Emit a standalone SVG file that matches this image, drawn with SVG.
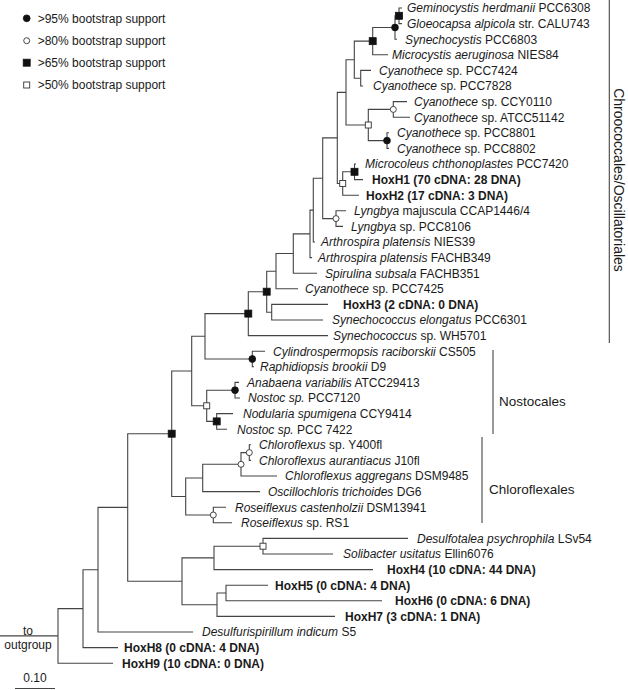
<svg xmlns="http://www.w3.org/2000/svg" xmlns:xlink="http://www.w3.org/1999/xlink" width="628" height="690" viewBox="0 0 628 690">
<style>
text{font-family:"Liberation Sans",Arial,Helvetica,sans-serif;font-size:12px;fill:#1a1a1a}
.i{font-style:italic}
.b{font-weight:bold}
.cl{font-size:13.5px}
.e{fill:none;stroke:#444;stroke-width:1.1}
.fc,.fs{fill:#111;stroke:#111;stroke-width:0.8}
.oc,.os{fill:#fff;stroke:#333;stroke-width:0.9}
</style>
<defs>
<circle id="FC" r="3.4" class="fc"/>
<circle id="OC" r="3" class="oc"/>
<rect id="FS" x="-3.5" y="-3.5" width="7" height="7" class="fs"/>
<rect id="OS" x="-3" y="-3" width="6" height="6" class="os"/>
</defs>
<rect width="628" height="690" fill="#fff"/>

<g id="legend">
<use xlink:href="#FC" x="26.7" y="18.3"/><text x="37.7" y="22.6">&gt;95% bootstrap support</text>
<use xlink:href="#OC" x="26.7" y="40.7"/><text x="37.7" y="45">&gt;80% bootstrap support</text>
<use xlink:href="#FS" x="26.7" y="62.7"/><text x="37.7" y="67">&gt;65% bootstrap support</text>
<use xlink:href="#OS" x="26.7" y="85"/><text x="37.7" y="89.3">&gt;50% bootstrap support</text>
</g>

<g id="connectors">
<path class="e" d="M402 8H399V23.6H402"/>
<path class="e" d="M399 15.8H395V39.2H397"/>
<path class="e" d="M395 27.5H372.7V54.8H388"/>
<path class="e" d="M371 70.4H360.7V86H363"/>
<path class="e" d="M372.7 41.15H354.3V78.2H360.7"/>
<path class="e" d="M407 101.6H393.3V117.2H410"/>
<path class="e" d="M389 132.8H387V148.4H389"/>
<path class="e" d="M393.3 109.4H368.3V140.6H387"/>
<path class="e" d="M354.3 59.7H346V125H368.3"/>
<path class="e" d="M356 164H354.5V179.6H363"/>
<path class="e" d="M354.5 171.8H342.7V195.2H359"/>
<path class="e" d="M346 92.35H337.3V183.5H342.7"/>
<path class="e" d="M346 210.8H336V226.4H343"/>
<path class="e" d="M337.3 137.9H322.7V218.6H336"/>
<path class="e" d="M322.7 178.25H313.3V242H315"/>
<path class="e" d="M313.3 210.1H310V257.6H312"/>
<path class="e" d="M310 233.9H293.3V273.2H317"/>
<path class="e" d="M293.3 253.5H276V288.8H298"/>
<path class="e" d="M328 304.4H271.7V320H323"/>
<path class="e" d="M276 271.2H266.7V312.2H271.7"/>
<path class="e" d="M266.7 291.7H248.3V335.6H328"/>
<path class="e" d="M265 351.2H252.3V366.8H254"/>
<path class="e" d="M248.3 313.6H205V359H252.3"/>
<path class="e" d="M239 382.4H235V398H240"/>
<path class="e" d="M233 413.6H216.7V429.2H227"/>
<path class="e" d="M235 390.2H206.7V421.4H216.7"/>
<path class="e" d="M205 336.3H191.7V405.8H206.7"/>
<path class="e" d="M251 444.8H249.3V460.4H251"/>
<path class="e" d="M249.3 452.6H241V476H277"/>
<path class="e" d="M241 464.3H202.7V491.6H260"/>
<path class="e" d="M226 507.2H213.3V522.8H232"/>
<path class="e" d="M202.7 478H185.7V515H213.3"/>
<path class="e" d="M191.7 371H171.7V496.5H185.7"/>
<path class="e" d="M408 538.4H263V554H333"/>
<path class="e" d="M263 546.2H214V569.6H373"/>
<path class="e" d="M268 585.2H226V600.8H382"/>
<path class="e" d="M226 593H217V616.4H335"/>
<path class="e" d="M214 557.9H182V604.7H217"/>
<path class="e" d="M171.7 433.7H127.7V581.3H182"/>
<path class="e" d="M127.7 507.4H98V632H193"/>
<path class="e" d="M98 569.7H83V647.6H118"/>
<path class="e" d="M83 608.6H58V663.2H113"/>
<path class="e" d="M0 635.9H58"/>
<path class="e" d="M15 688.5H55"/>
<path class="e" d="M609.3 0V343"/>
<path class="e" d="M493 350V434"/>
<path class="e" d="M482 437V523"/>
</g>

<g id="support">
<use xlink:href="#FC" x="395" y="27.5"/>
<use xlink:href="#FC" x="387" y="140.6"/>
<use xlink:href="#FC" x="252.3" y="359"/>
<use xlink:href="#FC" x="235" y="390.2"/>
<use xlink:href="#OC" x="393.3" y="109.4"/>
<use xlink:href="#OC" x="336" y="218.6"/>
<use xlink:href="#OC" x="249.3" y="452.6"/>
<use xlink:href="#OC" x="241" y="464.3"/>
<use xlink:href="#OC" x="213.3" y="515"/>
<use xlink:href="#FS" x="399" y="15.8"/>
<use xlink:href="#FS" x="372.7" y="41.15"/>
<use xlink:href="#FS" x="354.5" y="171.8"/>
<use xlink:href="#FS" x="266.7" y="291.7"/>
<use xlink:href="#FS" x="248.3" y="313.6"/>
<use xlink:href="#FS" x="216.7" y="421.4"/>
<use xlink:href="#FS" x="171.7" y="433.7"/>
<use xlink:href="#OS" x="368.3" y="125"/>
<use xlink:href="#OS" x="342.7" y="183.5"/>
<use xlink:href="#OS" x="206.7" y="405.8"/>
<use xlink:href="#OS" x="263" y="546.2"/>
</g>

<g id="leaves">
<g id="n1"><text x="407" y="12.3"><tspan class="i">Geminocystis herdmanii</tspan> PCC6308</text></g>
<g id="n2"><text x="407" y="27.9"><tspan class="i">Gloeocapsa alpicola</tspan> str. CALU743</text></g>
<g id="n3"><text x="405" y="43.5"><tspan class="i">Synechocystis</tspan> PCC6803</text></g>
<g id="n4"><text x="392" y="59.1"><tspan class="i">Microcystis aeruginosa</tspan> NIES84</text></g>
<g id="n5"><text x="379" y="74.7"><tspan class="i">Cyanothece</tspan> sp. PCC7424</text></g>
<g id="n6"><text x="373" y="90.3"><tspan class="i">Cyanothece</tspan> sp. PCC7828</text></g>
<g id="n7"><text x="414" y="105.9"><tspan class="i">Cyanothece</tspan> sp. CCY0110</text></g>
<g id="n8"><text x="414" y="121.5"><tspan class="i">Cyanothece</tspan> sp. ATCC51142</text></g>
<g id="n9"><text x="397" y="137.1"><tspan class="i">Cyanothece</tspan> sp. PCC8801</text></g>
<g id="n10"><text x="397" y="152.7"><tspan class="i">Cyanothece</tspan> sp. PCC8802</text></g>
<g id="n11"><text x="365" y="168.3"><tspan class="i">Microcoleus chthonoplastes</tspan> PCC7420</text></g>
<g id="n12"><text x="372" y="183.9" class="b">HoxH1 (70 cDNA: 28 DNA)</text></g>
<g id="n13"><text x="366" y="199.5" class="b">HoxH2 (17 cDNA: 3 DNA)</text></g>
<g id="n14"><text x="354" y="215.1"><tspan class="i">Lyngbya</tspan> majuscula CCAP1446/4</text></g>
<g id="n15"><text x="351" y="230.7"><tspan class="i">Lyngbya</tspan> sp. PCC8106</text></g>
<g id="n16"><text x="321" y="246.3"><tspan class="i">Arthrospira platensis</tspan> NIES39</text></g>
<g id="n17"><text x="318" y="261.9"><tspan class="i">Arthrospira platensis</tspan> FACHB349</text></g>
<g id="n18"><text x="325" y="277.5"><tspan class="i">Spirulina subsala</tspan> FACHB351</text></g>
<g id="n19"><text x="305" y="293.1"><tspan class="i">Cyanothece</tspan> sp. PCC7425</text></g>
<g id="n20"><text x="343" y="308.7" class="b">HoxH3 (2 cDNA: 0 DNA)</text></g>
<g id="n21"><text x="332" y="324.3"><tspan class="i">Synechococcus elongatus</tspan> PCC6301</text></g>
<g id="n22"><text x="333" y="339.9"><tspan class="i">Synechococcus</tspan> sp. WH5701</text></g>
<g id="n23"><text x="273" y="355.5"><tspan class="i">Cylindrospermopsis raciborskii</tspan> CS505</text></g>
<g id="n24"><text x="260" y="371.1"><tspan class="i">Raphidiopsis brookii</tspan> D9</text></g>
<g id="n25"><text x="247" y="386.7"><tspan class="i">Anabaena variabilis</tspan> ATCC29413</text></g>
<g id="n26"><text x="248" y="402.3"><tspan class="i">Nostoc sp.</tspan> PCC7120</text></g>
<g id="n27"><text x="243" y="417.9"><tspan class="i">Nodularia spumigena</tspan> CCY9414</text></g>
<g id="n28"><text x="237" y="433.5"><tspan class="i">Nostoc sp.</tspan> PCC 7422</text></g>
<g id="n29"><text x="259" y="449.1"><tspan class="i">Chloroflexus</tspan> sp. Y400fl</text></g>
<g id="n30"><text x="259" y="464.7"><tspan class="i">Chloroflexus aurantiacus</tspan> J10fl</text></g>
<g id="n31"><text x="285" y="480.3"><tspan class="i">Chloroflexus aggregans</tspan> DSM9485</text></g>
<g id="n32"><text x="268" y="495.9"><tspan class="i">Oscillochloris trichoides</tspan> DG6</text></g>
<g id="n33"><text x="235" y="511.5"><tspan class="i">Roseiflexus castenholzii</tspan> DSM13941</text></g>
<g id="n34"><text x="241" y="527.1"><tspan class="i">Roseiflexus</tspan> sp. RS1</text></g>
<g id="n35"><text x="417" y="542.7"><tspan class="i">Desulfotalea psychrophila</tspan> LSv54</text></g>
<g id="n36"><text x="343" y="558.3"><tspan class="i">Solibacter usitatus</tspan> Ellin6076</text></g>
<g id="n37"><text x="387" y="573.9" class="b">HoxH4 (10 cDNA: 44 DNA)</text></g>
<g id="n38"><text x="275" y="589.5" class="b">HoxH5 (0 cDNA: 4 DNA)</text></g>
<g id="n39"><text x="395" y="605.1" class="b">HoxH6 (0 cDNA: 6 DNA)</text></g>
<g id="n40"><text x="345" y="620.7" class="b">HoxH7 (3 cDNA: 1 DNA)</text></g>
<g id="n41"><text x="202" y="636.3"><tspan class="i">Desulfurispirillum indicum</tspan> S5</text></g>
<g id="n42"><text x="124" y="651.9" class="b">HoxH8 (0 cDNA: 4 DNA)</text></g>
<g id="n43"><text x="122" y="667.5" class="b">HoxH9 (10 cDNA: 0 DNA)</text></g>
</g>

<g id="clades">
<text class="cl" style="font-size:14px" transform="translate(614 180) rotate(90)" text-anchor="middle">Chroococcales/Oscillatoriales</text>
<text class="cl" x="499" y="406">Nostocales</text>
<text class="cl" x="489" y="494">Chloroflexales</text>
</g>

<g id="outgroup">
<text x="28" y="634.5" text-anchor="middle">to</text>
<text x="28" y="648.5" text-anchor="middle">outgroup</text>
<text x="35" y="681.5" text-anchor="middle">0.10</text>
</g>
</svg>
